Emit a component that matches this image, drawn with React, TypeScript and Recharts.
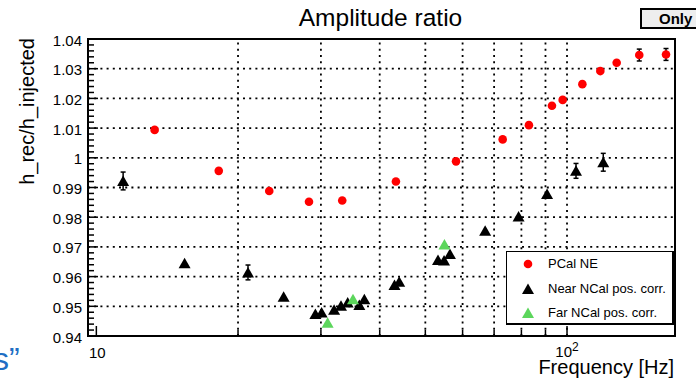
import React from 'react';
import { ScatterChart, Scatter, XAxis, YAxis, ReferenceLine, ReferenceArea, ErrorBar, Legend } from 'recharts';

// ---- data ----
const pcalFreq = [13.3, 18.2, 23.3, 28.3, 33.3, 43.3, 58.1, 73.0, 83.0, 92.9, 97.9, 107.8, 117.7, 127.5, 142.4, 162.3];
const pcalRatio = [1.0094, 0.9956, 0.9888, 0.9852, 0.9856, 0.992, 0.9988, 1.0062, 1.011, 1.0175, 1.0195, 1.0248, 1.0292, 1.032, 1.0346, 1.0348];
const pcalErr = [0, 0, 0, 0, 0, 0, 0, 0, 0, 0, 0, 0, 0, 0, 0.002, 0.002];

const nearFreq = [11.4, 15.4, 21.0, 25.0, 29.2, 30.1, 32.0, 33.1, 34.2, 36.2, 37.1, 43.0, 44.0, 53.2, 54.8, 56.4, 67.0, 78.9, 90.7, 104.5, 119.4];
const nearRatio = [0.9922, 0.9645, 0.9614, 0.9532, 0.9474, 0.9479, 0.9488, 0.9502, 0.9513, 0.9504, 0.9524, 0.9572, 0.9583, 0.9656, 0.9654, 0.9676, 0.9754, 0.9802, 0.9878, 0.9956, 0.9985];
const nearErr = [0.003, 0, 0.0025, 0, 0, 0, 0, 0, 0, 0, 0, 0, 0, 0, 0, 0, 0, 0, 0, 0.0025, 0.003];

const farFreq = [31.0, 35.1, 54.9];
const farRatio = [0.9445, 0.9524, 0.9708];
const farErr = [0, 0, 0];

const seriesNames = ['PCal NE', 'Near NCal pos. corr.', 'Far NCal pos. corr.'];
const seriesColors = ['#ff0000', '#000000', '#5cd65c'];

const X_DOMAIN: [number, number] = [9.6, 169.6];
const Y_DOMAIN: [number, number] = [0.94, 1.04];
const xTickValues = [10, 20, 30, 40, 50, 60, 70, 80, 90, 100];
const xGridValues = [20, 30, 40, 50, 60, 70, 80, 90, 100];
const yMajorTicks = [0.94, 0.95, 0.96, 0.97, 0.98, 0.99, 1.0, 1.01, 1.02, 1.03, 1.04];
const yGridValues = [0.95, 0.96, 0.97, 0.98, 0.99, 1.0, 1.01, 1.02, 1.03];
const yMinorSteps = [0, 0.002, 0.004, 0.006, 0.008];
const yAllTicks = yMajorTicks.flatMap((m, i) =>
  i < yMajorTicks.length - 1 ? yMinorSteps.map((s) => +(m + s).toFixed(3)) : [m]
);

const mk = (f: number[], v: number[], e: number[]) => f.map((x, i) => ({ f: x, v: v[i], e: e[i] }));
const pcalData = mk(pcalFreq, pcalRatio, pcalErr);
const nearData = mk(nearFreq, nearRatio, nearErr);
const farData = mk(farFreq, farRatio, farErr);

const FONT = '"Liberation Sans", Arial, Helvetica, sans-serif';

const triPath = (cx: number, cy: number) => `M${cx},${cy - 5.5} L${cx + 6},${cy + 5} L${cx - 6},${cy + 5} Z`;

const DotShape = (p: any) => <circle cx={p.cx} cy={p.cy} r={4.3} fill={seriesColors[0]} />;
const NearShape = (p: any) => <path d={triPath(p.cx, p.cy)} fill={seriesColors[1]} />;
const FarShape = (p: any) => <path d={triPath(p.cx, p.cy)} fill={seriesColors[2]} />;

const Y_TICK_MARGIN = 6;
const YTick = (props: any) => {
  const { x, y, payload } = props;
  const v = payload.value;
  const major = yMajorTicks.some((m) => Math.abs(m - v) < 1e-6);
  const ax = x + Y_TICK_MARGIN;
  return (
    <g>
      <line x1={ax} x2={ax + (major ? 10 : 6)} y1={y} y2={y} stroke="#000" strokeWidth={1.5} />
      {major && (
        <text x={x} y={y} dy={6.5} textAnchor="end" fontSize={15} fontFamily={FONT} fill="#000">
          {String(+v.toFixed(2))}
        </text>
      )}
    </g>
  );
};

const XTick = (props: any) => {
  const { x, y, payload } = props;
  const v = payload.value;
  const major = v === 10 || v === 100;
  return (
    <g>
      <line x1={x} x2={x} y1={y} y2={y - (major ? 10 : 6)} stroke="#000" strokeWidth={1.5} />
      {v === 10 && (
        <text x={x + 1} y={y + 22} textAnchor="middle" fontSize={15} fontFamily={FONT} fill="#000">10</text>
      )}
      {v === 100 && (
        <text x={x} y={y + 21} textAnchor="middle" fontSize={15} fontFamily={FONT} fill="#000">
          10<tspan dy={-6} fontSize={12}>2</tspan>
        </text>
      )}
    </g>
  );
};

const LegendBox = () => (
  <div
    style={{
      position: 'relative',
      width: 168,
      height: 74,
      boxSizing: 'border-box',
      border: '1.5px solid #000',
      borderRightWidth: 2,
      borderBottomWidth: 2,
      background: '#fff',
      fontFamily: FONT,
      fontSize: 13,
      color: '#000',
    }}
  >
    {seriesNames.map((name, i) => (
      <div key={name} style={{ position: 'absolute', left: 0, top: 3 + i * 24.5, height: 18, width: 168 }}>
        <svg width={30} height={18} style={{ position: 'absolute', left: 6, top: 0 }}>
          {i === 0 ? (
            <circle cx={15} cy={9} r={4.3} fill={seriesColors[0]} />
          ) : (
            <path d={triPath(15, 9)} fill={seriesColors[i]} />
          )}
        </svg>
        <span style={{ position: 'absolute', left: 41, top: 1, whiteSpace: 'nowrap' }}>{name}</span>
      </div>
    ))}
  </div>
);

const grid = { stroke: '#000', strokeWidth: 1.8, strokeDasharray: '2 4.2' };

export default function App() {
  return (
    <div style={{ position: 'absolute', left: 0, top: 0, width: 696, height: 379, background: '#fff', overflow: 'hidden', fontFamily: FONT }}>
      <ScatterChart width={696} height={379} margin={{ top: 39, right: 21, bottom: 0, left: 0 }}>
        <XAxis
          dataKey="f"
          type="number"
          scale="log"
          domain={X_DOMAIN}
          allowDataOverflow
          ticks={xTickValues}
          interval={0}
          height={43}
          tickSize={0}
          tickMargin={0}
          axisLine={false}
          tickLine={false}
          tick={<XTick />}
        />
        <YAxis
          dataKey="v"
          type="number"
          domain={Y_DOMAIN}
          allowDataOverflow
          ticks={yAllTicks}
          interval={0}
          width={88}
          tickSize={0}
          tickMargin={Y_TICK_MARGIN}
          axisLine={false}
          tickLine={false}
          tick={<YTick />}
        />
        {yGridValues.map((v) => (
          <ReferenceLine key={'y' + v} y={v} {...grid} />
        ))}
        {xGridValues.map((v) => (
          <ReferenceLine key={'x' + v} x={v} {...grid} />
        ))}
        <ReferenceArea
          x1={X_DOMAIN[0]}
          x2={X_DOMAIN[1]}
          y1={Y_DOMAIN[0]}
          y2={Y_DOMAIN[1]}
          fill="none"
          fillOpacity={0}
          stroke="#000"
          strokeWidth={2}
          ifOverflow="visible"
        />
        <Scatter name={seriesNames[0]} data={pcalData} shape={DotShape} isAnimationActive={false}>
          <ErrorBar dataKey="e" direction="y" width={2.5} stroke="#000" strokeWidth={1.5} />
        </Scatter>
        <Scatter name={seriesNames[1]} data={nearData} shape={NearShape} isAnimationActive={false}>
          <ErrorBar dataKey="e" direction="y" width={2.5} stroke="#000" strokeWidth={1.5} />
        </Scatter>
        <Scatter name={seriesNames[2]} data={farData} shape={FarShape} isAnimationActive={false} />
        <Legend
          layout="vertical"
          align="center"
          verticalAlign="middle"
          content={() => <LegendBox />}
          wrapperStyle={{ left: 506, top: 251, width: 168, height: 74 }}
        />
      </ScatterChart>
      <svg width={696} height={379} style={{ position: 'absolute', left: 0, top: 0, pointerEvents: 'none' }}>
        <text x={380.5} y={26} textAnchor="middle" fontSize={24.5} fontFamily={FONT} fill="#000">Amplitude ratio</text>
        <text transform="translate(34,38) rotate(-90)" textAnchor="end" fontSize={20} fontFamily={FONT} fill="#000">h_rec/h_injected</text>
        <text x={674} y={374} textAnchor="end" fontSize={20} fontFamily={FONT} fill="#000">Frequency [Hz]</text>
        <rect x={641} y={9} width={70} height={19} fill="#eeeeee" stroke="#000" strokeWidth={2} />
        <text x={659} y={24} fontSize={15} fontWeight="bold" fontFamily={FONT} fill="#000">Only</text>
        <text x={-7} y={370} fontSize={32} fontFamily={FONT} fill="#1f6fc4">s”</text>
      </svg>
    </div>
  );
}
